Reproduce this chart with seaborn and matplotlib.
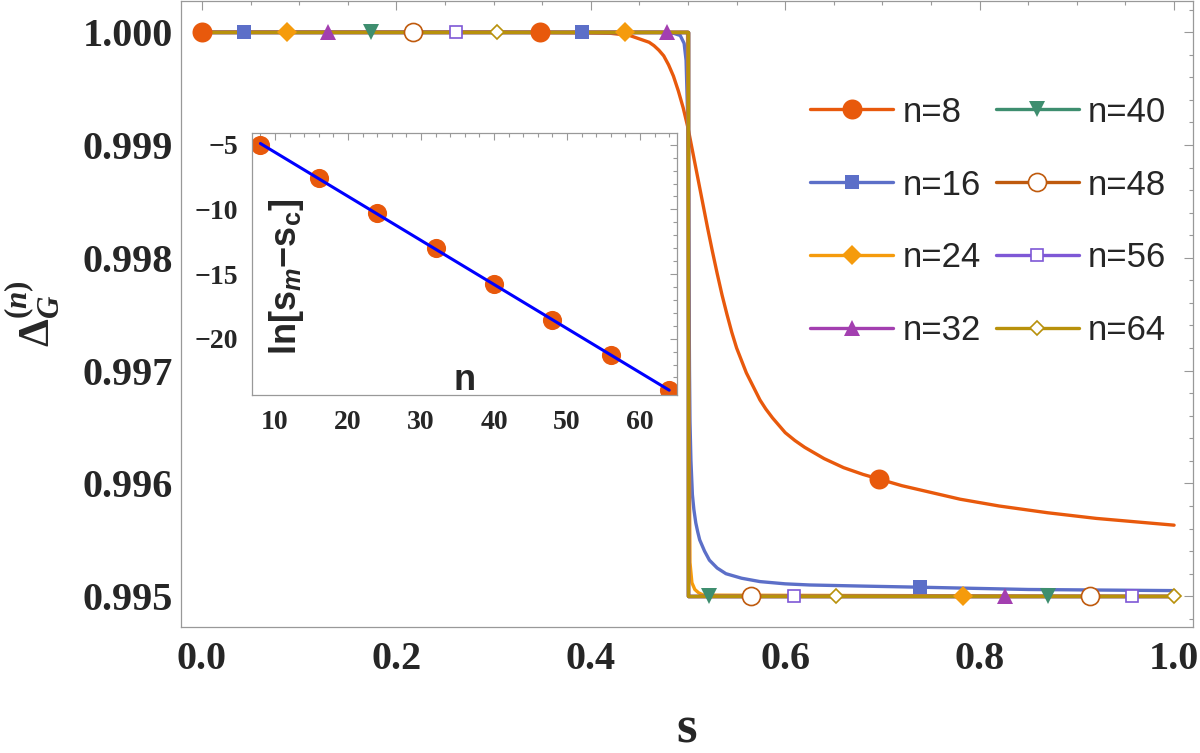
import numpy as np
import pandas as pd
import matplotlib
matplotlib.use('Agg')
import matplotlib.pyplot as plt
from matplotlib.lines import Line2D
from matplotlib.ticker import MultipleLocator
import seaborn as sns

# series names, colours and marker styles
labels = ['n=8', 'n=16', 'n=24', 'n=32', 'n=40', 'n=48', 'n=56', 'n=64']
colors = ['#E8590C', '#5C6FC8', '#F59B0C', '#A33FB0', '#3E8E6F',
          '#BF5A0D', '#7E58D6', '#B8910B']

# curves
s_n8 = [0.0, 0.30, 0.38, 0.42, 0.44, 0.45, 0.46, 0.465, 0.47, 0.475, 0.48,
        0.485, 0.49, 0.495, 0.50, 0.505, 0.51, 0.515, 0.52, 0.525, 0.53,
        0.535, 0.54, 0.545, 0.55, 0.555, 0.56, 0.567, 0.574, 0.58, 0.587,
        0.594, 0.60, 0.61, 0.62, 0.63, 0.64, 0.66, 0.68, 0.70, 0.72, 0.75,
        0.78, 0.82, 0.87, 0.92, 0.96, 1.0]
d_n8 = [1.0, 1.0, 0.999995, 0.99999, 0.99997, 0.99994, 0.99991, 0.99988,
        0.99984, 0.99979, 0.99971, 0.99961, 0.99948, 0.99933, 0.99915,
        0.99893, 0.99871, 0.99849, 0.99827, 0.99806, 0.99786, 0.99767,
        0.99750, 0.99734, 0.99720, 0.99709, 0.99698, 0.99686, 0.99674,
        0.99666, 0.99658, 0.99651, 0.99645, 0.99638, 0.99632, 0.99627,
        0.99622, 0.99614, 0.99608, 0.99603, 0.99598, 0.99592, 0.99586,
        0.99580, 0.99574, 0.99569, 0.99566, 0.99563]

s_n16 = [0.0, 0.47, 0.485, 0.492, 0.496, 0.498, 0.4995, 0.5005, 0.501,
         0.5015, 0.502, 0.503, 0.5045, 0.506, 0.508, 0.510, 0.512, 0.5145,
         0.517, 0.522, 0.530, 0.539, 0.555, 0.574, 0.600, 0.625, 0.680,
         0.740, 0.850, 1.0]
d_n16 = [1.0, 1.0, 0.99999, 0.99997, 0.99990, 0.99975, 0.9993, 0.9988,
         0.9978, 0.9970, 0.99655, 0.9962, 0.9959, 0.99577, 0.99565, 0.99557,
         0.99550, 0.99545, 0.99540, 0.99532, 0.99525, 0.99520, 0.99516,
         0.99513, 0.99511, 0.99510, 0.99509, 0.99508, 0.99506, 0.99505]

s_n24 = [0.0, 0.4995, 0.5005, 0.502, 0.504, 0.507, 0.511, 0.516, 1.0]
d_n24 = [1.0, 1.0, 0.9975, 0.9953, 0.99512, 0.99506, 0.99503, 0.99501, 0.995]

s_step = [0.0, 0.5, 0.5, 1.0]
d_step = [1.0, 1.0, 0.995, 0.995]

curve_s = [s_n8, s_n16, s_n24, s_step, s_step, s_step, s_step, s_step]
curve_d = [d_n8, d_n16, d_n24, d_step, d_step, d_step, d_step, d_step]

# plot markers placed along each curve
mark_s = [[0.0, 0.348, 0.696], [0.043, 0.391, 0.739], [0.087, 0.435, 0.783],
          [0.130, 0.478, 0.826], [0.174, 0.522, 0.870], [0.217, 0.565, 0.913],
          [0.261, 0.609, 0.957], [0.304, 0.652, 1.0]]
mark_d = [[1.0, 1.0, 0.99604], [1.0, 1.0, 0.99508], [1.0, 1.0, 0.995],
          [1.0, 1.0, 0.995], [1.0, 0.995, 0.995], [1.0, 0.995, 0.995],
          [1.0, 0.995, 0.995], [1.0, 0.995, 0.995]]
markers = ['o', 's', 'D', '^', 'v', 'o', 's', 'D']
msizes = [14.4, 9.4, 9.7, 12.2, 12.2, 13.0, 8.6, 7.6]
filled = [True, True, True, True, True, False, False, False]

# inset data
inset_n = [8, 16, 24, 32, 40, 48, 56, 64]
inset_ln = [-5.0, -7.6, -10.3, -13.0, -15.8, -18.55, -21.3, -24.0]

sns.set_style('white')
plt.rcParams['font.family'] = ['Liberation Serif', 'DejaVu Sans']
plt.rcParams['font.weight'] = 'bold'
plt.rcParams['mathtext.fontset'] = 'custom'
plt.rcParams['mathtext.rm'] = 'Liberation Serif:bold'
plt.rcParams['mathtext.it'] = 'Liberation Serif:bold:italic'
plt.rcParams['mathtext.bf'] = 'Liberation Serif:bold'
plt.rcParams['mathtext.sf'] = 'Liberation Sans:bold'
plt.rcParams['mathtext.cal'] = 'Liberation Sans:bold:italic'

fig = plt.figure(figsize=(12, 7.53), dpi=100)
ax = fig.add_axes([0.1508, 0.1677, 0.8434, 0.8316])

lw = 2.4
for i in range(8):
    df = pd.DataFrame({'s': curve_s[i], 'd': curve_d[i]})
    sns.lineplot(data=df, x='s', y='d', ax=ax, color=colors[i], lw=lw,
                 estimator=None, sort=False, zorder=2 + i * 0.1)

for i in range(8):
    fc = colors[i] if filled[i] else 'white'
    ax.plot(mark_s[i], mark_d[i], ls='none', marker=markers[i], ms=msizes[i],
            mfc=fc, mec=colors[i], mew=0 if filled[i] else 1.2, zorder=4)

ax.set_xlim(-0.0216, 1.0195)
ax.set_ylim(0.99473, 1.00028)
ax.xaxis.set_major_locator(MultipleLocator(0.2))
ax.xaxis.set_minor_locator(MultipleLocator(0.05))
ax.yaxis.set_major_locator(MultipleLocator(0.001))
ax.yaxis.set_minor_locator(MultipleLocator(0.0002))
ax.xaxis.set_major_formatter(plt.FuncFormatter(lambda v, p: f'{v:.1f}'))
ax.yaxis.set_major_formatter(plt.FuncFormatter(lambda v, p: f'{v:.3f}'))
ax.tick_params(which='both', direction='in', top=True, right=True,
               color='#999999', labelsize=29, width=0.8)
ax.tick_params(which='major', length=6.2)
ax.tick_params(which='minor', length=3.2)
ax.tick_params(axis='y', pad=6)
ax.tick_params(axis='x', pad=10)
for sp in ax.spines.values():
    sp.set_color('#999999')
    sp.set_linewidth(0.9)
ax.set_xlabel('s', fontsize=38, fontweight='bold', labelpad=20)
ax.set_ylabel(r'$\Delta_{G}^{(n)}$', fontsize=32, labelpad=14)

# legend
handles = []
for i in range(8):
    fc = colors[i] if filled[i] else 'white'
    handles.append(Line2D([], [], color=colors[i], lw=lw, marker=markers[i],
                          ms=msizes[i], mfc=fc, mec=colors[i],
                          mew=0 if filled[i] else 1.2))
fig.legend(handles, labels, ncol=2, loc='upper left',
           bbox_to_anchor=(0.675, 0.873), frameon=False,
           prop={'family': 'Liberation Sans', 'weight': 'normal', 'size': 25},
           handlelength=2.4, handletextpad=0.26, columnspacing=0.43,
           labelspacing=1.15, borderpad=0, borderaxespad=0)

# inset
axin = fig.add_axes([0.21, 0.4754, 0.3542, 0.3483])
sns.regplot(x=inset_n, y=inset_ln, ax=axin, ci=None,
            scatter_kws={'s': 190, 'color': colors[0], 'linewidths': 0, 'alpha': 1},
            line_kws={'color': '#0000FF', 'lw': 2.2})
axin.set_xlim(6.85, 65.07)
axin.set_ylim(-24.36, -4.07)
axin.xaxis.set_major_locator(MultipleLocator(10))
axin.xaxis.set_minor_locator(MultipleLocator(2))
axin.yaxis.set_major_locator(MultipleLocator(5))
axin.yaxis.set_minor_locator(MultipleLocator(1))
axin.yaxis.set_major_formatter(plt.FuncFormatter(lambda v, p: f'{v:.0f}'.replace('-', '\u2212')))
axin.tick_params(which='both', direction='in', top=True, right=True,
                 color='#999999', labelsize=20, width=0.8)
axin.tick_params(which='major', length=5)
axin.tick_params(which='minor', length=3)
axin.tick_params(axis='y', pad=10)
axin.tick_params(axis='x', pad=11)
for sp in axin.spines.values():
    sp.set_color('#999999')
    sp.set_linewidth(0.9)
axin.set_xlabel('')
axin.set_ylabel('')
axin.text(0.082, 0.45, 'ln[s$_{\\mathcal{m}}$\u2212s$_{\\mathsf{c}}$]',
          rotation=90, ha='center', va='center', transform=axin.transAxes,
          family='Liberation Sans', weight='bold', size=26)
axin.text(0.499, 0.057, 'n', ha='center', va='center', transform=axin.transAxes,
          family='Liberation Sans', weight='bold', size=26)

fig.savefig('out.png', dpi=100)
